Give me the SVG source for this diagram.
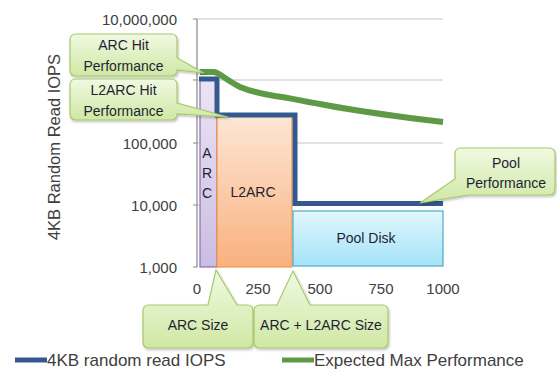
<svg xmlns="http://www.w3.org/2000/svg" width="557" height="370" viewBox="0 0 557 370">
<defs>
<style>
.grid{stroke:#d9d9d9;stroke-width:1.5;fill:none}
.axis{stroke:#868686;stroke-width:1.2;fill:none}
.tick{font-family:"Liberation Sans",Arial,sans-serif;font-size:15px;fill:#404040}
.title{font-family:"Liberation Sans",Arial,sans-serif;font-size:16.5px;fill:#404040}
.legend{font-family:"Liberation Sans",Arial,sans-serif;font-size:17px;fill:#404040}
.lbl{font-family:"Liberation Sans",Arial,sans-serif;font-size:14px;fill:#1f1f33;text-anchor:middle}
.call{fill:url(#gCall);stroke:#a6c96a;stroke-width:1.2;filter:url(#sh)}
</style>
<linearGradient id="gArc" x1="0" y1="0" x2="0" y2="1"><stop offset="0" stop-color="#ebe4f5"/><stop offset="1" stop-color="#cbbde2"/></linearGradient>
<linearGradient id="gL2" x1="0" y1="0" x2="0" y2="1"><stop offset="0" stop-color="#fde6d4"/><stop offset="1" stop-color="#f9b17e"/></linearGradient>
<linearGradient id="gPool" x1="0" y1="0" x2="0" y2="1"><stop offset="0" stop-color="#e3f6fd"/><stop offset="1" stop-color="#a3e3f8"/></linearGradient>
<linearGradient id="gCall" x1="0" y1="0" x2="0" y2="1"><stop offset="0" stop-color="#f0f9e2"/><stop offset="1" stop-color="#cfe8a4"/></linearGradient>
<filter id="sh" x="-10%" y="-10%" width="130%" height="140%"><feDropShadow dx="1" dy="1.5" stdDeviation="1.2" flood-color="#000" flood-opacity="0.25"/></filter>
</defs>
<rect width="557" height="370" fill="#ffffff"/>

<g id="grid">
<line class="grid" x1="197" y1="19" x2="443" y2="19"/>
<line class="grid" x1="197" y1="80" x2="443" y2="80"/>
<line class="grid" x1="197" y1="143" x2="443" y2="143"/>
<line class="grid" x1="197" y1="205" x2="443" y2="205"/>
</g>

<g id="axis">
<line class="axis" x1="197" y1="19" x2="197" y2="267"/>
<path class="axis" d="M193,19H197M193,80H197M193,143H197M193,205H197M193,267H197"/>
<g class="tick" text-anchor="end">
<text x="177" y="25">10,000,000</text>
<text x="177" y="149">100,000</text>
<text x="177" y="211">10,000</text>
<text x="177" y="273">1,000</text>
</g>
<g class="tick" text-anchor="middle">
<text x="197" y="294">0</text>
<text x="258" y="294">250</text>
<text x="320" y="294">500</text>
<text x="381" y="294">750</text>
<text x="443" y="294">1000</text>
</g>
<text class="title" transform="translate(60,147) rotate(-90)" text-anchor="middle">4KB Random Read IOPS</text>
</g>

<g id="arc">
<rect x="200" y="79" width="17" height="188" fill="url(#gArc)" stroke="#8a6fb0" stroke-width="1.2"/>
<g class="lbl"><text x="207" y="158">A</text><text x="207" y="178">R</text><text x="207" y="198">C</text></g>
</g>
<g id="l2arc">
<rect x="217" y="116" width="75" height="151" fill="url(#gL2)" stroke="#f79646" stroke-width="1.2"/>
<text class="lbl" x="253" y="197" font-size="15">L2ARC</text>
</g>
<g id="pooldisk">
<rect x="293" y="211" width="150" height="55" fill="url(#gPool)" stroke="#4bacc6" stroke-width="1.2"/>
<text class="lbl" x="366" y="243" font-size="15">Pool Disk</text>
</g>

<g id="connectors">
<path d="M199,79H217V115H295V203.5H443" fill="none" stroke="#34598f" stroke-width="5" stroke-linejoin="miter"/>
<path d="M200,72L214,72C220,73 226,80 240,87C252,92 262,94 275,96C292,98 300,101 320,104C350,110 380,114 410,118L443,122" fill="none" stroke="#5e9a46" stroke-width="6" stroke-linejoin="round"/>
</g>

<g id="callout-arc-hit">
<path class="call" d="M76,34H171Q177,34 177,40V58L204,73L177,70Q177,76 171,76H76Q70,76 70,70V40Q70,34 76,34Z"/>
<text class="lbl" x="123.5" y="50">ARC Hit</text>
<text class="lbl" x="123.5" y="70.5">Performance</text>
</g>
<g id="callout-l2arc-hit">
<path class="call" d="M76,79H171Q177,79 177,85V103L228,117L177,114Q177,120 171,120H76Q70,120 70,114V85Q70,79 76,79Z"/>
<text class="lbl" x="123.5" y="95">L2ARC Hit</text>
<text class="lbl" x="123.5" y="116">Performance</text>
</g>
<g id="callout-pool">
<path class="call" d="M461,148H549Q555,148 555,154V189Q555,195 549,195H468L420,203L455,179V154Q455,148 461,148Z"/>
<text class="lbl" x="506" y="168">Pool</text>
<text class="lbl" x="506" y="188">Performance</text>
</g>
<g id="callout-arc-size">
<path class="call" d="M149,305H208L216,270L237,305H247Q253,305 253,311V342Q253,348 247,348H149Q143,348 143,342V311Q143,305 149,305Z"/>
<text class="lbl" x="198" y="330">ARC Size</text>
</g>
<g id="callout-total-size">
<path class="call" d="M260,305H277L293,271L310,305H382Q388,305 388,311V342Q388,348 382,348H260Q254,348 254,342V311Q254,305 260,305Z"/>
<text class="lbl" x="321" y="330">ARC + L2ARC Size</text>
</g>

<g id="legend">
<line x1="15" y1="360" x2="47" y2="360" stroke="#34598f" stroke-width="5"/>
<text class="legend" x="47" y="366">4KB random read IOPS</text>
<line x1="282" y1="360" x2="314" y2="360" stroke="#5e9a46" stroke-width="5"/>
<text class="legend" x="314" y="366">Expected Max Performance</text>
</g>
</svg>
